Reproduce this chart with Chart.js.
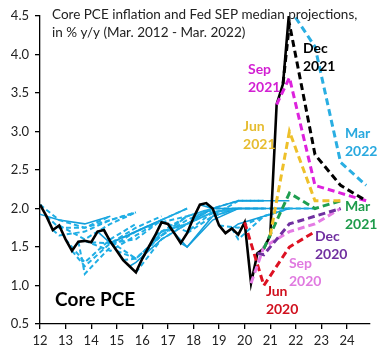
<!DOCTYPE html>
<html>
<head>
<meta charset="utf-8">
<script src="https://cdn.jsdelivr.net/npm/chart.js@4.4.1/dist/chart.umd.min.js"></script>
<style>
  html, body { margin: 0; padding: 0; background: #fff; }
</style>
</head>
<body>
<canvas id="grafico" width="384" height="360"></canvas>
<script>
// ticks
const xTicks = [12, 13, 14, 15, 16, 17, 18, 19, 20, 21, 22, 23, 24];
const yTicks = [0.5, 1.0, 1.5, 2.0, 2.5, 3.0, 3.5, 4.0, 4.5];

// core PCE y/y, quarterly 2012Q1 - 2021Q4
const corePce = [2.05, 1.90, 1.72, 1.78, 1.60, 1.45, 1.57, 1.58,
                 1.56, 1.70, 1.72, 1.57, 1.45, 1.33, 1.25, 1.17,
                 1.35, 1.50, 1.65, 1.82, 1.80, 1.68, 1.55, 1.68,
                 1.88, 2.05, 2.07, 2.00, 1.78, 1.68, 1.74, 1.66,
                 1.82, 1.03, 1.42, 1.48, 1.65, 3.35, 3.62, 4.60];

// SEP medians: first value = last actual at time of meeting, then Q4/Q4 for each year
const sepJun2020 = [1.82, 1.0, 1.5, 1.7];
const sepSep2020 = [1.03, 1.5, 1.7, 1.8, 2.0];
const sepDec2020 = [1.42, 1.4, 1.8, 1.9, 2.0];
const sepMar2021 = [1.48, 2.2, 2.0, 2.1];
const sepJun2021 = [1.65, 3.0, 2.1, 2.1];
const sepSep2021 = [3.35, 3.7, 2.3, 2.2, 2.1];
const sepDec2021 = [3.62, 4.4, 2.7, 2.3, 2.1];
const sepMar2022 = [4.60, 4.1, 2.6, 2.3];

// older SEPs (2012-2019): [mes, año, valores, sólida]
const sepAntiguos = [
  ['Mar', 12, [1.95, 1.85, 1.8, 1.9], true],
  ['Jun', 12, [2.05, 1.85, 1.75, 1.9], false],
  ['Sep', 12, [1.90, 1.75, 1.75, 1.85, 1.95], false],
  ['Dec', 12, [1.72, 1.65, 1.7, 1.85, 1.95], false],
  ['Mar', 13, [1.78, 1.6, 1.8, 1.95], false],
  ['Jun', 13, [1.60, 1.3, 1.6, 1.8], false],
  ['Sep', 13, [1.45, 1.25, 1.55, 1.75, 1.9], false],
  ['Dec', 13, [1.57, 1.15, 1.5, 1.7, 1.85], false],
  ['Mar', 14, [1.58, 1.45, 1.65, 1.85], false],
  ['Jun', 14, [1.56, 1.55, 1.7, 1.85], false],
  ['Sep', 14, [1.70, 1.55, 1.7, 1.85, 2.0], true],
  ['Dec', 14, [1.72, 1.55, 1.6, 1.85, 2.0], false],
  ['Mar', 15, [1.57, 1.35, 1.65, 1.9], false],
  ['Jun', 15, [1.45, 1.35, 1.65, 1.9], false],
  ['Sep', 15, [1.33, 1.35, 1.65, 1.85, 2.0], false],
  ['Dec', 15, [1.25, 1.3, 1.6, 1.8, 2.0], true],
  ['Mar', 16, [1.17, 1.6, 1.8, 2.0], false],
  ['Jun', 16, [1.35, 1.7, 1.9, 2.0], false],
  ['Sep', 16, [1.50, 1.7, 1.8, 1.95, 2.0], false],
  ['Dec', 16, [1.65, 1.7, 1.8, 1.95, 2.0], false],
  ['Mar', 17, [1.82, 1.9, 2.0, 2.0], false],
  ['Jun', 17, [1.80, 1.7, 1.95, 2.0], false],
  ['Sep', 17, [1.68, 1.5, 1.85, 2.0, 2.0], true],
  ['Dec', 17, [1.55, 1.5, 1.9, 2.0, 2.0], true],
  ['Mar', 18, [1.68, 1.9, 2.1, 2.1], false],
  ['Jun', 18, [1.88, 2.0, 2.1, 2.1], false],
  ['Sep', 18, [2.05, 2.0, 2.1, 2.1, 2.1], true],
  ['Dec', 18, [2.07, 1.9, 2.0, 2.0, 2.0], false],
  ['Mar', 19, [2.00, 2.0, 2.0, 2.0], true],
  ['Jun', 19, [1.78, 1.75, 1.9, 2.0], false],
  ['Sep', 19, [1.68, 1.8, 1.9, 2.0, 2.0], true],
  ['Dec', 19, [1.74, 1.6, 1.9, 2.0, 2.0], false]
];

const desfaseMes = { Mar: -0.25, Jun: 0, Sep: 0.25, Dec: 0.5 };

function puntosSep(mes, anio, valores) {
  return valores.map((v, i) => ({
    x: i === 0 ? anio + desfaseMes[mes] : anio + 0.75 + (i - 1),
    y: v
  }));
}

const datasets = [];

sepAntiguos.forEach(([mes, anio, valores, solida]) => {
  datasets.push({
    data: puntosSep(mes, anio, valores),
    borderColor: solida ? '#149FDB' : '#1FAEE5',
    borderWidth: solida ? 1.6 : 2,
    borderDash: solida ? [] : [5, 3]
  });
});

datasets.push({
  data: corePce.map((v, i) => ({ x: 12 + i * 0.25, y: v })),
  borderColor: '#000000',
  borderWidth: 2.6,
  borderDash: []
});

const recientes = [
  ['Jun', 20, sepJun2020, '#DD1122'],
  ['Sep', 20, sepSep2020, '#E47BE4'],
  ['Dec', 20, sepDec2020, '#7030A0'],
  ['Mar', 21, sepMar2021, '#1E9E50'],
  ['Jun', 21, sepJun2021, '#EEC02A'],
  ['Sep', 21, sepSep2021, '#DD22DD'],
  ['Dec', 21, sepDec2021, '#000000'],
  ['Mar', 22, sepMar2022, '#2AAEE2']
];

recientes.forEach(([mes, anio, valores, color]) => {
  datasets.push({
    data: puntosSep(mes, anio, valores),
    borderColor: color,
    borderWidth: 3,
    borderDash: [7, 4]
  });
});

// first dataset is drawn on top in Chart.js
datasets.reverse();

const notas = [
  { lineas: ['Dec', '2021'], x: 22.28, y: 4.08, color: '#000000' },
  { lineas: ['Sep', '2021'], x: 20.13, y: 3.80, color: '#D21FD2' },
  { lineas: ['Jun', '2021'], x: 19.94, y: 3.06, color: '#E6BC30' },
  { lineas: ['Mar', '2022'], x: 23.92, y: 2.98, color: '#29A9DF' },
  { lineas: ['Mar', '2021'], x: 23.92, y: 2.02, color: '#1E9B4B' },
  { lineas: ['Dec', '2020'], x: 22.75, y: 1.64, color: '#7030A0' },
  { lineas: ['Sep', '2020'], x: 21.73, y: 1.29, color: '#E07AE0' },
  { lineas: ['Jun', '2020'], x: 20.83, y: 0.92, color: '#D0101E' }
];

const textosPlugin = {
  id: 'textos',
  afterDatasetsDraw(chart) {
    const { ctx, scales } = chart;
    ctx.save();
    ctx.textAlign = 'left';
    ctx.textBaseline = 'middle';

    ctx.fillStyle = '#222';
    ctx.font = '13.5px Lato';
    ctx.fillText('Core PCE inflation and Fed SEP median projections,', 52, 15);
    ctx.fillText('in % y/y (Mar. 2012 - Mar. 2022)', 52, 33);

    ctx.font = 'bold 14px Lato';
    notas.forEach(n => {
      const px = scales.x.getPixelForValue(n.x);
      const py = scales.y.getPixelForValue(n.y);
      ctx.fillStyle = n.color;
      n.lineas.forEach((t, i) => ctx.fillText(t, px, py + i * 18));
    });

    ctx.fillStyle = '#000';
    ctx.font = 'bold 19px Lato';
    ctx.fillText('Core PCE', scales.x.getPixelForValue(12.59), scales.y.getPixelForValue(0.81));
    ctx.restore();
  }
};

const ctx = document.getElementById('grafico').getContext('2d');
new Chart(ctx, {
  type: 'line',
  data: { datasets: datasets },
  options: {
    responsive: false,
    animation: false,
    layout: { padding: { top: 16, right: 14, left: 0, bottom: 0 } },
    elements: {
      point: { radius: 0 },
      line: { tension: 0, fill: false }
    },
    plugins: {
      legend: { display: false },
      tooltip: { enabled: false },
      title: { display: false }
    },
    scales: {
      x: {
        type: 'linear',
        min: 12,
        max: 24.9,
        afterBuildTicks: s => { s.ticks = xTicks.map(v => ({ value: v })); },
        afterFit: s => { s.height = 36; },
        border: { display: true, color: '#000', width: 1.3 },
        grid: { drawOnChartArea: false, drawTicks: true, tickLength: 5, color: '#000', lineWidth: 1.3 },
        ticks: { color: '#222', font: { family: 'Lato', size: 13 }, padding: 4, maxRotation: 0 }
      },
      y: {
        type: 'linear',
        min: 0.5,
        max: 4.5,
        afterBuildTicks: s => { s.ticks = yTicks.map(v => ({ value: v })); },
        afterFit: s => { s.width = 40; },
        border: { display: true, color: '#000', width: 1.3 },
        grid: { drawOnChartArea: false, drawTicks: true, tickLength: 5, color: '#000', lineWidth: 1.3 },
        ticks: {
          color: '#222',
          font: { family: 'Lato', size: 13 },
          padding: 6,
          callback: v => v.toFixed(1)
        }
      }
    }
  },
  plugins: [textosPlugin]
});
</script>
</body>
</html>
